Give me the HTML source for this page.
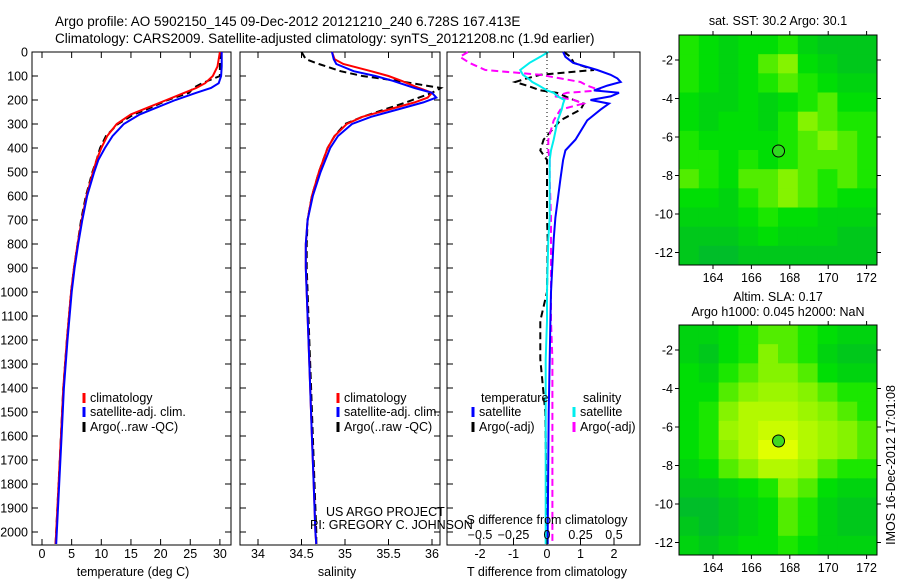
<!DOCTYPE html>
<html><head><meta charset="utf-8"><style>
body{margin:0;background:#fff;}
svg{display:block;font-family:"Liberation Sans",Arial,sans-serif;}
</style></head><body>
<svg id="c" width="900" height="580" viewBox="0 0 900 580"></svg>
<script>
// ---- data ----
const depthTicks=[0,100,200,300,400,500,600,700,800,900,1000,1100,1200,1300,1400,1500,1600,1700,1800,1900,2000];
const tempTicks=[0,5,10,15,20,25,30];
const salTicks=[34,34.5,35,35.5,36];
const tdTicks=[-2,-1,0,1,2];
const sdTicks=[-0.5,-0.25,0,0.25,0.5];
const lonTicks=[164,166,168,170,172];
const latTicks=[-2,-4,-6,-8,-10,-12];

const tDepth=[0,60,100,130,150,170,200,230,260,300,350,400,450,500,600,700,800,900,1000,1200,1400,1600,1800,2000,2050];
const tClim=[30,29.6,28.8,27.5,26,24,21,18,15,12.6,11,10,9.2,8.6,7.5,6.7,6,5.4,4.9,4.2,3.6,3.2,2.8,2.4,2.3];
const tSat=[30.3,30.3,30.2,29.8,28.5,26,22.5,19.5,16.5,13.8,11.9,10.6,9.5,8.8,7.6,6.8,6.1,5.5,5,4.3,3.7,3.3,2.9,2.5,2.4];
const tArgo=[30.1,30,30,27,25.5,24.8,21.2,18.5,15.5,12.8,10.8,9.8,9.2,8.5,7.4,6.6,6,5.4,4.9,4.2,3.6,3.2,2.8,2.4,2.3];

const sDepth=[0,30,50,80,100,120,150,170,190,210,240,270,300,350,400,500,600,700,800,900,1000,1200,1400,1600,1800,2000,2050];
const sClim=[34.85,34.88,34.98,35.3,35.5,35.65,35.85,36,35.95,35.8,35.5,35.2,35.02,34.88,34.8,34.7,34.62,34.57,34.55,34.55,34.56,34.58,34.6,34.62,34.64,34.66,34.67];
const sSat=[34.85,34.87,34.9,35.1,35.35,35.55,35.8,36,36.05,35.9,35.6,35.3,35.08,34.92,34.83,34.72,34.63,34.57,34.55,34.55,34.56,34.58,34.6,34.62,34.64,34.66,34.67];
const sArgo=[34.5,34.55,34.7,34.95,35.2,35.6,36.1,36.0,35.85,35.7,35.45,35.2,35.0,34.88,34.8,34.7,34.62,34.57,34.56,34.56,34.57,34.59,34.61,34.63,34.65,34.67,34.67];

const dDepth=[0,20,45,75,95,110,125,140,160,170,185,200,215,240,285,365,410,450,530,690,780,1000,1120,1280,1500,2000,2050];
const dTsat=[0.48,0.55,0.78,1.5,1.9,2.1,2.2,1.8,1.4,2.15,1.9,1.3,1.85,1.6,1.2,0.85,0.55,0.48,0.4,0.25,0.2,0.12,0.1,0.08,0.05,0.02,0.02];
const dTargo=[0.5,0.7,0.8,1.4,-0.2,-0.6,-0.95,-0.6,-0.2,0.3,0.55,0.8,1.1,1.0,0.4,-0.1,-0.2,0,0,0,0.02,0,-0.2,-0.2,-0.05,0,0];
const dSsat=[0.01,-0.05,-0.13,-0.2,-0.18,-0.14,-0.11,-0.06,0,0.05,0.08,0.13,0.12,0.11,0.08,0.05,0.03,0.02,0.02,0.02,0.01,0,0,-0.01,-0.01,-0.01,-0.01];
const dSargo=[-0.59,-0.65,-0.58,-0.46,-0.05,0.1,0.25,0.3,0.4,0.15,0.06,0.2,0.27,0.1,0.05,0.01,0.01,0.02,0.02,0.03,0.03,0.03,0.03,0.04,0.04,0.04,0.04];

const sstGrid=[
[.6,.5,.4,.5,.5,.6,.4,.3,.3,.3],
[.6,.5,.4,.5,.7,.8,.5,.4,.3,.3],
[.6,.5,.4,.5,.6,.7,.6,.5,.4,.4],
[.5,.4,.4,.5,.4,.5,.6,.7,.5,.5],
[.5,.4,.5,.5,.4,.6,.8,.7,.6,.6],
[.6,.5,.5,.5,.5,.6,.7,.8,.7,.6],
[.6,.6,.5,.6,.5,.6,.7,.7,.7,.6],
[.7,.6,.5,.7,.7,.8,.7,.6,.7,.6],
[.5,.5,.4,.6,.7,.8,.7,.6,.5,.5],
[.4,.4,.4,.5,.6,.5,.5,.4,.4,.4],
[.3,.3,.3,.4,.5,.4,.4,.4,.3,.3],
[.3,.2,.2,.3,.3,.3,.3,.3,.3,.3]];
const slaGrid=[
[.4,.4,.5,.6,.7,.7,.6,.5,.4,.4],
[.4,.3,.5,.6,.8,.7,.6,.4,.3,.3],
[.5,.4,.6,.7,.8,.8,.7,.5,.4,.4],
[.5,.5,.7,.8,.85,.85,.8,.7,.6,.6],
[.5,.6,.8,.9,.9,.9,.85,.8,.7,.6],
[.5,.6,.85,.9,.95,.95,.9,.85,.8,.7],
[.5,.6,.8,.9,1,1,.9,.85,.8,.7],
[.4,.5,.7,.8,.9,.9,.85,.7,.6,.6],
[.3,.3,.4,.5,.6,.8,.7,.5,.4,.4],
[.2,.2,.3,.4,.5,.7,.6,.4,.3,.3],
[.3,.2,.3,.4,.5,.7,.6,.4,.3,.3],
[.4,.3,.4,.5,.5,.6,.5,.4,.4,.4]];
const argoLon=167.413, argoLat=-6.728;

// ---- helpers ----
const S=document.getElementById('c');
const NS='http://www.w3.org/2000/svg';
function mk(tag,attrs,parent){const e=document.createElementNS(NS,tag);for(const k in attrs)e.setAttribute(k,attrs[k]);(parent||S).appendChild(e);return e;}
function txt(x,y,s,anchor,size,parent){const t=mk('text',{x:x,y:y,'text-anchor':anchor||'start','font-size':size||12,fill:'#000'},parent);t.textContent=s;return t;}

const yD=d=>52+d*0.24;
const xT=t=>42+t*5.93;
const xS=s=>258+(s-34)*87;
const xTd=v=>547+v*33.5;
const xSd=v=>547+v*134;

function poly(xs,ds,fx,color,dash,name,w){
  const p=xs.map((v,i)=>fx(v).toFixed(1)+','+yD(ds[i]).toFixed(1)).join(' ');
  const e=mk('polyline',{points:p,fill:'none',stroke:color,'stroke-width':w||2});
  if(dash)e.setAttribute('stroke-dasharray',dash);
  
  
}

// titles
let t=txt(55,26,'Argo profile: AO 5902150_145 09-Dec-2012 20121210_240 6.728S 167.413E','start',13.5);


t=txt(55,43,'Climatology: CARS2009. Satellite-adjusted climatology: synTS_20121208.nc (1.9d earlier)','start',13.5);



// panel boxes
function box(x0,x1,name){const r=mk('rect',{x:x0,y:52,width:x1-x0,height:493,fill:'none',stroke:'#000','stroke-width':1});

}
box(32,231,'temperature-panel');box(240,440,'salinity-panel');box(447,640,'difference-panel');

// depth axis
depthTicks.forEach(d=>{const l=txt(28,yD(d)+4.5,String(d),'end',12.5);


[[32,38],[225,231],[240,246],[434,440],[447,453]].forEach(a=>mk('line',{x1:a[0],x2:a[1],y1:yD(d),y2:yD(d),stroke:'#000'}));});

// temperature panel
tempTicks.forEach(v=>{mk('line',{x1:xT(v),x2:xT(v),y1:52,y2:58,stroke:'#000'});mk('line',{x1:xT(v),x2:xT(v),y1:539,y2:545,stroke:'#000'});
const l=txt(xT(v),558,String(v),'middle',12.5);

});
t=txt(133,576,'temperature (deg C)','middle',12.5);


poly(tArgo,tDepth,xT,'#000','7,4','temp-argo-line');
poly(tClim,tDepth,xT,'#f00',null,'temp-climatology-line');
poly(tSat,tDepth,xT,'#00f',null,'temp-satellite-line');

// salinity panel
salTicks.forEach(v=>{mk('line',{x1:xS(v),x2:xS(v),y1:52,y2:58,stroke:'#000'});mk('line',{x1:xS(v),x2:xS(v),y1:539,y2:545,stroke:'#000'});
const l=txt(xS(v),558,String(v),'middle',12.5);

});
t=txt(337,576,'salinity','middle',12.5);


poly(sArgo,sDepth,xS,'#000','7,4','sal-argo-line');
poly(sClim,sDepth,xS,'#f00',null,'sal-climatology-line');
poly(sSat,sDepth,xS,'#00f',null,'sal-satellite-line');

// legends
function legend(x,y,color,label,name){mk('line',{x1:x,x2:x,y1:y-9,y2:y+1,stroke:color,'stroke-width':3});
const l=txt(x+6,y,label,'start',12.5);

}
legend(84,402,'#f00','climatology','legend-climatology');
legend(84,416,'#00f','satellite-adj. clim.','legend-satellite');
legend(84,431,'#000','Argo(..raw -QC)','legend-argo');
legend(338,402,'#f00','climatology','legend-climatology-2');
legend(338,416,'#00f','satellite-adj. clim.','legend-satellite-2');
legend(338,431,'#000','Argo(..raw -QC)','legend-argo-2');
t=txt(326,516,'US ARGO PROJECT','start',12.5);


t=txt(310,529,'PI: GREGORY C. JOHNSON','start',12.5);



// difference panel
mk('line',{x1:547,x2:547,y1:52,y2:170,stroke:'#000','stroke-dasharray':'1,3'});
poly(dTargo,dDepth,xTd,'#000','7,4','tdiff-argo-line');
poly(dSargo,dDepth,xSd,'#f0f','7,4','sdiff-argo-line');
poly(dTsat,dDepth,xTd,'#00f',null,'tdiff-satellite-line');
poly(dSsat,dDepth,xSd,'#0ee',null,'sdiff-satellite-line');
tdTicks.forEach(v=>{mk('line',{x1:xTd(v),x2:xTd(v),y1:539,y2:545,stroke:'#000'});mk('line',{x1:xTd(v),x2:xTd(v),y1:52,y2:58,stroke:'#000'});
const l=txt(xTd(v),558,String(v),'middle',12.5);

});
sdTicks.forEach(v=>{const l=txt(xSd(v),539,String(v).replace('-','\u2212'),'middle',12.5);

});
t=txt(547,524,'S difference from climatology','middle',12.5);


t=txt(547,576,'T difference from climatology','middle',12.5);


t=txt(481,402,'temperature','start',12.5);


t=txt(583,402,'salinity','start',12.5);


legend(473,416,'#00f','satellite','legend-t-satellite');
legend(473,431,'#000','Argo(-adj)','legend-t-argo');
legend(574,416,'#0ee','satellite','legend-s-satellite');
legend(574,431,'#f0f','Argo(-adj)','legend-s-argo');

// maps
const stops=[[0,[0,170,70]],[0.35,[0,205,20]],[0.55,[0,228,0]],[0.75,[110,240,0]],[1,[225,255,0]]];
function col(v){for(let i=1;i<stops.length;i++){if(v<=stops[i][0]){const a=stops[i-1],b=stops[i],f=(v-a[0])/(b[0]-a[0]);
return 'rgb('+a[1].map((c,k)=>Math.round(c+(b[1][k]-c)*f)).join(',')+')';}}return 'rgb(225,255,0)';}
function map(top,grid,name,markerFill){
  const g=mk('g',{});
  const xL=lon=>713+(lon-164)*19.2;
  const yL=lat=>top+25+(-2-lat)*19.25;
  const x0=679,x1=877,y0=top,y1=top+230;
  const cw=(x1-x0)/grid[0].length,ch=(y1-y0)/grid.length;
  grid.forEach((row,r)=>row.forEach((v,c)=>{const e=mk('rect',{x:x0+c*cw,y:y0+r*ch,width:cw+0.5,height:ch+0.5,fill:col(v)},g);
  
  }));
  mk('rect',{x:x0,y:y0,width:x1-x0,height:y1-y0,fill:'none',stroke:'#000'},g);
  lonTicks.forEach(l=>{mk('line',{x1:xL(l),x2:xL(l),y1:y0-4,y2:y0,stroke:'#000'},g);mk('line',{x1:xL(l),x2:xL(l),y1:y1,y2:y1+4,stroke:'#000'},g);
    const tl=txt(xL(l),y1+17,String(l),'middle',12.5,g);
    
    });
  latTicks.forEach(l=>{mk('line',{x1:x0-4,x2:x0,y1:yL(l),y2:yL(l),stroke:'#000'},g);mk('line',{x1:x1,x2:x1+4,y1:yL(l),y2:yL(l),stroke:'#000'},g);
    const tl=txt(x0-6,yL(l)+4.5,String(l),'end',12.5,g);
    
    });
  const m=mk('circle',{cx:xL(argoLon),cy:yL(argoLat),r:6,fill:markerFill,stroke:'#000','stroke-width':1},g);
  
  
}
map(35,sstGrid,'sst-map','#30d820');
map(325,slaGrid,'sla-map','#40d820');
t=txt(778,25,'sat. SST: 30.2 Argo: 30.1','middle',12.5);


t=txt(778,301,'Altim. SLA: 0.17','middle',12.5);


t=txt(778,316,'Argo h1000: 0.045 h2000: NaN','middle',12.5);


t=mk('text',{x:0,y:0,'text-anchor':'middle','font-size':12.5,transform:'translate(895,465) rotate(-90)'});
t.textContent='IMOS 16-Dec-2012 17:01:08';


</script>
</body></html>
